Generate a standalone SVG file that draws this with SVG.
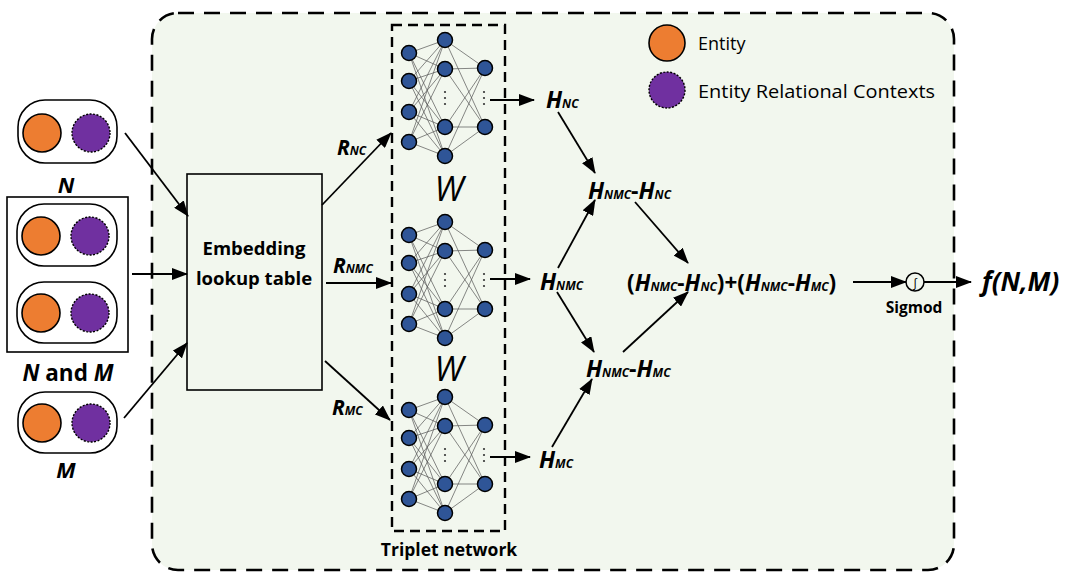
<svg xmlns="http://www.w3.org/2000/svg" xmlns:xlink="http://www.w3.org/1999/xlink" width="1070" height="572" viewBox="0 0 1070 572">
<style>
.ent{fill:#ed7d31;stroke:#000;stroke-width:1.6}
.ctx{fill:#7030a0;stroke:#000;stroke-width:1.4;stroke-dasharray:2 1.5}
.pill{fill:none;stroke:#000;stroke-width:1.6}
.conn{fill:none;stroke:#000;stroke-width:1.8;marker-end:url(#ah)}
.nl{stroke:#555;stroke-width:0.7}
.nn{fill:#2f5597;stroke:#000;stroke-width:1.5}
.dot{fill:#333}
.t{font-family:"Open Sans","Liberation Sans",sans-serif;fill:#000}
.bi{font-family:"Open Sans","Liberation Sans",sans-serif;font-weight:bold;font-style:italic;fill:#000}
.sub{font-size:12px}
</style>
<defs>
<marker id="ah" markerWidth="16" markerHeight="12" refX="15" refY="6" orient="auto" markerUnits="userSpaceOnUse">
<path d="M0,0 L16,6 L0,12 Z" fill="#000"/>
</marker>
<g id="net">
<g class="nl">
<line x1="409" y1="53" x2="445" y2="40"/><line x1="409" y1="53" x2="445" y2="69"/><line x1="409" y1="53" x2="445" y2="127"/><line x1="409" y1="53" x2="445" y2="156"/>
<line x1="409" y1="81" x2="445" y2="40"/><line x1="409" y1="81" x2="445" y2="69"/><line x1="409" y1="81" x2="445" y2="127"/><line x1="409" y1="81" x2="445" y2="156"/>
<line x1="409" y1="112" x2="445" y2="40"/><line x1="409" y1="112" x2="445" y2="69"/><line x1="409" y1="112" x2="445" y2="127"/><line x1="409" y1="112" x2="445" y2="156"/>
<line x1="409" y1="142" x2="445" y2="40"/><line x1="409" y1="142" x2="445" y2="69"/><line x1="409" y1="142" x2="445" y2="127"/><line x1="409" y1="142" x2="445" y2="156"/>
<line x1="445" y1="40" x2="485" y2="68"/><line x1="445" y1="40" x2="485" y2="127"/>
<line x1="445" y1="69" x2="485" y2="68"/><line x1="445" y1="69" x2="485" y2="127"/>
<line x1="445" y1="127" x2="485" y2="68"/><line x1="445" y1="127" x2="485" y2="127"/>
<line x1="445" y1="156" x2="485" y2="68"/><line x1="445" y1="156" x2="485" y2="127"/>
</g>
<circle class="nn" cx="409" cy="53" r="7.5"/><circle class="nn" cx="409" cy="81" r="7.5"/><circle class="nn" cx="409" cy="112" r="7.5"/><circle class="nn" cx="409" cy="142" r="7.5"/>
<circle class="nn" cx="445" cy="40" r="7.5"/><circle class="nn" cx="445" cy="69" r="7.5"/><circle class="nn" cx="445" cy="127" r="7.5"/><circle class="nn" cx="445" cy="156" r="7.5"/>
<circle class="nn" cx="485" cy="68" r="7.5"/><circle class="nn" cx="485" cy="127" r="7.5"/>
<circle class="dot" cx="445" cy="92" r="1.1"/><circle class="dot" cx="445" cy="98" r="1.1"/><circle class="dot" cx="445" cy="104" r="1.1"/>
<circle class="dot" cx="484" cy="92" r="1.1"/><circle class="dot" cx="484" cy="98" r="1.1"/><circle class="dot" cx="484" cy="104" r="1.1"/>
</g>
</defs>

<rect x="0" y="0" width="1070" height="572" fill="#fff"/>

<g id="panel">
<rect x="152" y="13" width="802" height="557" rx="26" fill="#f2f7ee" stroke="#000" stroke-width="2.6" stroke-dasharray="16 10"/>
</g>

<g id="legend">
<circle class="ent" cx="667" cy="43" r="18"/>
<text class="t" x="698" y="50" font-size="18">Entity</text>
<circle class="ctx" cx="667" cy="90" r="18"/>
<text class="t" x="698" y="98" font-size="18" textLength="237" lengthAdjust="spacingAndGlyphs">Entity Relational Contexts</text>
</g>

<g id="input-N">
<rect class="pill" x="18" y="100" width="99" height="63" rx="27"/>
<circle class="ent" cx="42" cy="133" r="19"/>
<circle class="ctx" cx="91" cy="133" r="19"/>
<text class="bi" x="66" y="193" font-size="22" text-anchor="middle">N</text>
</g>

<g id="input-NM">
<rect x="7" y="197" width="121" height="155" fill="none" stroke="#000" stroke-width="1.6"/>
<rect class="pill" x="17" y="204" width="100" height="62" rx="27"/>
<circle class="ent" cx="41" cy="236" r="19"/>
<circle class="ctx" cx="90" cy="236" r="19"/>
<rect class="pill" x="17" y="282" width="100" height="61" rx="27"/>
<circle class="ent" cx="41" cy="313" r="19"/>
<circle class="ctx" cx="90" cy="313" r="19"/>
<text class="bi" x="68" y="381" font-size="22.5" text-anchor="middle">N<tspan font-style="normal"> and </tspan>M</text>
</g>

<g id="input-M">
<rect class="pill" x="18" y="392" width="99" height="61" rx="27"/>
<circle class="ent" cx="42" cy="423" r="19"/>
<circle class="ctx" cx="91" cy="423" r="19"/>
<text class="bi" x="66" y="478" font-size="22" text-anchor="middle">M</text>
</g>

<g id="embedding">
<rect x="187" y="174" width="135" height="216" fill="#f2f7ee" stroke="#000" stroke-width="1.6"/>
<text class="t" x="254" y="255" font-size="18.5" font-weight="bold" text-anchor="middle">Embedding</text>
<text class="t" x="254" y="285" font-size="18.5" font-weight="bold" text-anchor="middle">lookup table</text>
</g>

<g id="triplet">
<rect x="392" y="25" width="113" height="506" fill="none" stroke="#000" stroke-width="2.4" stroke-dasharray="10 6"/>
<use xlink:href="#net"/>
<use xlink:href="#net" transform="translate(0,182)"/>
<use xlink:href="#net" transform="translate(0,357)"/>
<text class="t" x="449" y="201" font-size="34" font-style="italic" text-anchor="middle">W</text>
<text class="t" x="449" y="381" font-size="34" font-style="italic" text-anchor="middle">W</text>
<text class="t" x="449" y="556" font-size="17.5" font-weight="bold" text-anchor="middle">Triplet network</text>
</g>

<g id="labels-R">
<text class="bi" x="337" y="155" font-size="21">R<tspan class="sub">NC</tspan></text>
<text class="bi" x="333" y="273" font-size="21">R<tspan class="sub">NMC</tspan></text>
<text class="bi" x="332" y="415" font-size="21">R<tspan class="sub">MC</tspan></text>
</g>

<g id="H-NC"><text class="bi" x="546" y="108" font-size="23">H<tspan class="sub">NC</tspan></text></g>
<g id="H-NMC"><text class="bi" x="540" y="290" font-size="23">H<tspan class="sub">NMC</tspan></text></g>
<g id="H-MC"><text class="bi" x="539" y="468" font-size="23">H<tspan class="sub">MC</tspan></text></g>
<g id="diff-NC"><text class="bi" x="588" y="199" font-size="23">H<tspan class="sub">NMC</tspan><tspan font-style="normal">-</tspan>H<tspan class="sub">NC</tspan></text></g>
<g id="diff-MC"><text class="bi" x="586" y="377" font-size="23">H<tspan class="sub">NMC</tspan><tspan font-style="normal">-</tspan>H<tspan class="sub">MC</tspan></text></g>
<g id="sum"><text class="bi" x="627" y="291" font-size="22.5"><tspan font-style="normal">(</tspan>H<tspan class="sub">NMC</tspan><tspan font-style="normal">-</tspan>H<tspan class="sub">NC</tspan><tspan font-style="normal">)+(</tspan>H<tspan class="sub">NMC</tspan><tspan font-style="normal">-</tspan>H<tspan class="sub">MC</tspan><tspan font-style="normal">)</tspan></text></g>

<g id="sigmoid">
<circle cx="915" cy="282" r="9" fill="#f2f7ee" stroke="#000" stroke-width="1.5"/>
<text class="t" x="915" y="287" font-size="12" text-anchor="middle">∫</text>
<text class="t" x="914" y="313" font-size="15.5" font-weight="bold" text-anchor="middle">Sigmod</text>
</g>

<g id="output"><text class="bi" x="982" y="291" font-size="26">f(N,M)</text></g>

<g id="connectors">
<line class="conn" x1="125" y1="133" x2="188" y2="216"/>
<line class="conn" x1="132" y1="274" x2="187" y2="274"/>
<line class="conn" x1="124" y1="418" x2="187" y2="343"/>
<line class="conn" x1="322" y1="205" x2="391" y2="133"/>
<line class="conn" x1="326" y1="283" x2="391" y2="283"/>
<line class="conn" x1="325" y1="361" x2="390" y2="420"/>
<line class="conn" x1="490" y1="100" x2="534" y2="100"/>
<line class="conn" x1="490" y1="279" x2="530" y2="279"/>
<line class="conn" x1="490" y1="457" x2="530" y2="457"/>
<line class="conn" x1="558" y1="112" x2="595" y2="173"/>
<line class="conn" x1="558" y1="268" x2="595" y2="200"/>
<line class="conn" x1="557" y1="292" x2="594" y2="352"/>
<line class="conn" x1="552" y1="447" x2="592" y2="379"/>
<line class="conn" x1="635" y1="202" x2="688" y2="263"/>
<line class="conn" x1="623" y1="352" x2="688" y2="292"/>
<line class="conn" x1="853" y1="282" x2="906" y2="282"/>
<line class="conn" x1="924" y1="282" x2="971" y2="282"/>
</g>
</svg>
